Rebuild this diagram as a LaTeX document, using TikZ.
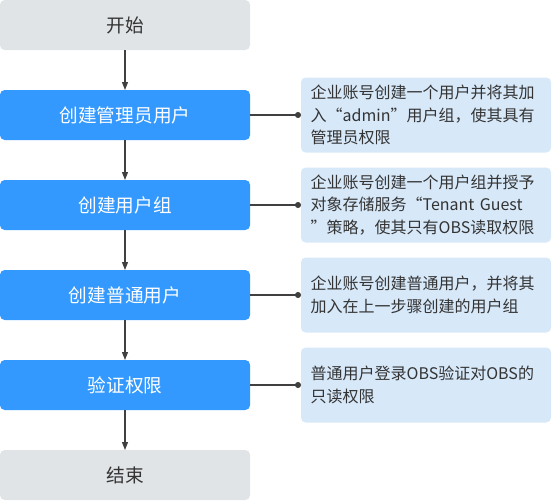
\documentclass[tikz,border=0pt]{standalone}
\usepackage{fontspec}
\setmainfont{Noto Sans CJK SC}
\usetikzlibrary{arrows.meta,positioning}
\definecolor{stepblue}{HTML}{3399FF}
\definecolor{noteblue}{HTML}{D7E8F9}
\definecolor{endgray}{HTML}{E1E4E7}
\definecolor{linegray}{HTML}{404040}
\definecolor{textgray}{HTML}{333333}

\begin{document}
\begin{tikzpicture}[>={Triangle[length=6pt,width=4.5pt]},node distance=30pt,
  box/.style={rounded corners=3.5pt,outer sep=0pt,minimum width=187.5pt,minimum height=37.5pt,
    font=\fontsize{14pt}{17pt}\selectfont},
  endbox/.style={box,fill=endgray,text=textgray},
  stepbox/.style={box,fill=stepblue,text=white},
  notebox/.style={rounded corners=3.5pt,outer sep=0pt,fill=noteblue,text=textgray,
    minimum width=187.5pt,minimum height=56.25pt,text width=173pt,inner xsep=7.25pt,
    align=left,font=\fontsize{12pt}{17pt}\selectfont},
  flow/.style={->,draw=linegray,line width=0.9pt},
  link/.style={-{Circle[length=4.5pt]},draw=linegray,line width=0.9pt}]
  \useasboundingbox (-93.75pt,18.75pt) rectangle (320.25pt,-356.25pt);
  % main flow
  \node[endbox] (start) at (0,0) {开始};
  \node[stepbox] (admin) [below=of start] {创建管理员用户};
  \node[stepbox] (group) [below=of admin] {创建用户组};
  \node[stepbox] (user) [below=of group] {创建普通用户};
  \node[stepbox] (check) [below=of user] {验证权限};
  \node[endbox] (stop) [below=of check] {结束};
  \draw[flow] (start) -- (admin);
  \draw[flow] (admin) -- (group);
  \draw[flow] (group) -- (user);
  \draw[flow] (user) -- (check);
  \draw[flow] (check) -- (stop);
  % notes
  \node[notebox] (adminnote) [right=38.25pt of admin]
    {企业账号创建一个用户并将其加\\入“admin”用户组，使其具有\\管理员权限};
  \node[notebox] (groupnote) [right=38.25pt of group]
    {企业账号创建一个用户组并授予\\对象存储服务“Tenant Guest\\”策略，使其只有OBS读取权限};
  \node[notebox] (usernote) [right=38.25pt of user]
    {企业账号创建普通用户，并将其\\加入在上一步骤创建的用户组};
  \node[notebox] (checknote) [right=38.25pt of check]
    {普通用户登录OBS验证对OBS的\\只读权限};
  \draw[link] (admin) -- (adminnote);
  \draw[link] (group) -- (groupnote);
  \draw[link] (user) -- (usernote);
  \draw[link] (check) -- (checknote);
\end{tikzpicture}
\end{document}
